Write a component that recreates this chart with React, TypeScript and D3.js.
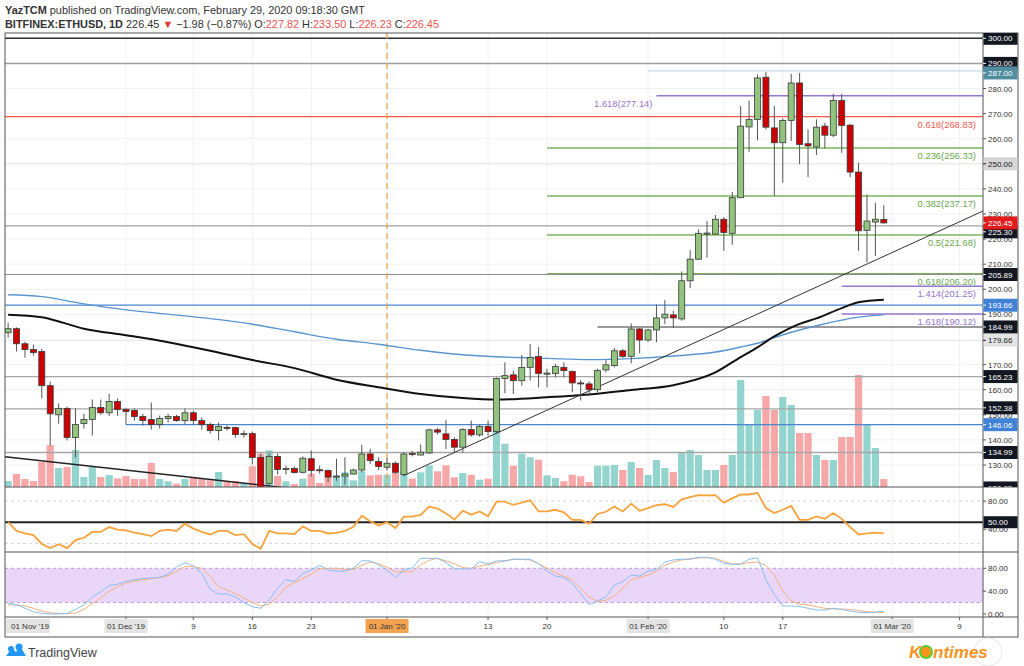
import React from "react";
import * as d3 from "d3";

const DAY = 86400000;
const firstDate = Date.UTC(2019, 10, 17);

const opens = [182.7,184.3,178.3,176.0,175.2,161.6,150.0,152.5,141.0,146.5,148.1,152.9,150.8,155.3,152.1,151.7,149.3,148.1,146.1,148.5,149.3,147.7,150.8,147.7,146.1,143.7,145.0,144.9,142.1,142.5,133.0,122.7,133.4,128.4,128.6,127.1,132.5,128.1,127.8,125.4,125.6,126.4,128.0,134.4,131.4,129.1,130.7,126.2,134.6,134.0,134.8,144.0,142.4,140.2,137.1,144.1,142.0,145.4,143.3,164.5,165.9,163.6,168.9,173.2,166.5,166.5,168.9,167.3,162.7,162.3,160.0,167.9,169.6,175.5,173.3,184.2,179.8,183.8,188.6,189.8,188.2,203.4,212.0,222.3,222.0,227.9,222.3,236.5,264.7,267.7,284.5,264.3,258.4,267.3,282.2,258.0,256.7,265.0,261.4,275.2,265.4,246.7,223.5,226.8,227.82];
const highs = [186.7,184.8,179.1,178.0,176.3,163.2,154.5,153.3,152.5,150.4,156.1,156.1,158.4,156.5,152.5,152.5,150.4,154.9,149.7,150.4,150.0,152.5,151.7,148.9,146.9,146.9,145.7,145.3,143.7,143.3,134.6,134.6,134.6,129.8,129.4,133.4,135.8,129.8,128.2,132.5,133.1,128.6,138.0,136.4,133.1,132.7,131.4,135.1,135.6,138.2,144.4,144.7,148.0,141.1,144.7,147.7,146.0,147.7,164.9,170.9,167.6,173.8,178.2,177.0,168.3,170.3,170.9,167.6,163.9,163.3,168.3,171.8,176.6,176.2,186.4,184.6,184.2,193.9,195.7,191.4,207.1,215.6,223.9,227.2,229.6,228.8,238.8,273.0,275.2,285.6,286.6,273.0,268.1,285.8,286.2,263.7,267.7,266.3,277.9,277.9,265.9,250.4,237.8,234.5,233.50];
const lows = [180.7,175.2,172.8,173.6,156.5,137.8,146.5,139.8,133.0,144.5,141.8,150.0,149.6,149.6,146.1,147.7,145.7,144.1,144.5,146.9,147.3,146.1,146.1,144.1,142.5,139.8,143.7,140.9,140.9,130.2,117.5,116.3,126.2,126.2,126.6,126.6,125.4,126.6,123.2,123.7,122.2,126.2,127.1,130.4,128.0,127.8,126.6,125.6,133.4,133.8,134.4,142.1,136.4,134.8,134.9,141.3,141.3,141.7,142.7,158.6,158.3,161.6,163.6,160.9,160.9,164.9,164.9,159.0,155.7,157.6,159.0,166.9,168.9,172.6,170.5,174.5,179.1,178.9,186.2,184.6,187.5,200.5,211.7,212.6,221.7,215.3,217.7,236.5,254.8,259.3,263.7,237.2,242.5,259.1,249.8,244.7,253.5,256.1,260.6,254.4,244.7,215.3,210.7,213.3,226.23];
const closes = [184.3,178.3,176.0,174.8,161.6,150.4,152.5,141.0,146.1,148.1,152.9,150.8,155.3,152.1,151.3,149.3,147.7,146.1,148.5,149.3,147.7,150.8,147.7,146.1,143.7,145.3,144.8,142.1,142.5,133.0,121.1,133.4,128.2,128.6,127.0,132.7,127.8,128.0,125.2,125.6,126.4,128.0,134.4,131.8,129.4,130.7,127.1,134.4,134.4,135.1,144.0,143.1,140.2,137.1,144.1,142.0,145.4,143.3,164.5,165.6,163.6,168.9,172.9,166.5,166.6,169.2,167.6,162.7,162.5,160.0,167.6,169.9,175.5,173.3,184.2,179.8,183.8,188.6,190.1,188.6,203.4,212.0,222.3,222.4,227.9,222.6,236.5,265.0,267.7,284.2,264.6,258.4,267.3,282.2,257.7,257.1,264.6,261.4,275.2,265.3,246.7,223.3,227.2,227.9,226.45];
const volumes = [60,130,80,60,250,420,190,200,370,100,200,100,120,86,110,80,80,240,80,57,33,80,100,80,67,150,57,57,40,207,333,367,110,57,30,83,133,40,107,113,147,67,157,117,123,123,140,157,83,147,217,157,217,97,140,123,73,83,690,433,213,333,297,273,117,90,57,123,107,50,213,213,220,170,250,190,120,270,190,150,350,370,320,170,170,220,320,1070,620,770,910,770,900,820,540,540,320,270,270,500,500,1120,620,390,80];
const rsi = [50.1,37.7,34.1,31.7,19.3,13.4,18.9,13.4,24.8,28.0,36.3,36.3,43.2,39.6,38.6,35.4,33.1,30.3,37.7,39.6,37.7,47.9,41.0,36.3,32.7,37.7,37.7,31.7,33.1,19.3,12.4,37.7,34.1,34.1,33.1,44.1,37.7,37.7,34.1,34.9,37.7,43.2,59.3,51.4,45.5,50.1,41.8,57.9,57.9,60.3,72.1,69.4,62.5,53.8,66.2,60.7,65.2,58.3,79.0,79.0,74.5,77.7,81.0,65.2,65.2,67.6,63.9,53.4,53.4,47.9,61.7,64.8,72.1,65.2,76.3,66.2,69.9,74.1,75.4,71.7,82.3,85.5,88.3,87.9,88.3,77.7,83.7,89.2,89.2,91.4,69.9,63.0,67.6,73.1,53.4,53.4,58.3,54.8,63.0,54.8,43.2,32.7,34.1,35.4,34.1];
const stochK = [18.7,16.5,10,4,1,0,0,1,8,15.8,30,39,50,52,57,60,62,63,64,70,82,90,84,71,43,35,35,30,20,12.8,10,24,45,60,57,71,77,85,77,75,75,80,93,93,86,77,64,77,81,97.5,97.5,97.5,90,79,79,79,91.6,87.6,92.8,93,95.8,95.8,95.8,88,75,66.5,64,53.7,36,16,22.8,30,51,56.6,68,66.5,75,78,91,94.6,95.8,96.3,99.3,99.3,95.8,88.8,87,87,95.8,98.6,60,34,14,14,13,10,7,7,10,8,5,3,2,3,5];
const stochD = [15.8,15.8,14,10,5,2,1,0.5,1.5,8,18,28,40,48,54,58,60,62,64,67,75,83,83,80,66,48,42,36,28,20,14,17,30,47,55,62,70,79,80,80,78,78,85,91,88,82,74,74,74,86,94,97.5,93,88,81,80,84,86,90,92.8,95.8,95.8,94.6,88,80,72,66,60,45,30,22,24,31.5,45,59.5,64,68.3,75,85,91,94.6,96,98,98.6,97.5,92,87.6,88,89.8,91,85,68,40,22.8,17,15.8,13,10,9,8.5,8,6,4,3,3];

// moving averages sampled at candle numbers (1-based)
const maCandle = [1,5,10,15,20,25,30,35,40,45,50,55,59,65,70,75,80,85,88,90,92,95,97,100,102,105];
const ma100 = [189.9,188.9,184.3,181.7,178.9,175.5,171.8,168.6,164.0,161.0,158.3,156.7,156.1,157.0,158.1,159.9,161.8,166.9,173.0,176.9,181.2,186.2,188.4,192.5,194.8,195.8];
const ma200 = [197.8,197.1,194.2,191.8,190.1,188.3,186.1,183.1,180.1,178.1,175.7,173.9,173.1,172.5,172.0,172.4,173.4,175.0,177.0,178.5,180.8,183.8,185.5,187.7,188.9,189.8];

const priceTicks = [130,140,150,160,170,190,200,210,220,230,240,260,270,280];

type Level = { price: number; from?: string; color: string; w: number };
const levels: Level[] = [
  { price: 300, color: "#2a2e39", w: 1.5 },
  { price: 290, color: "#9e9e9e", w: 1.5 },
  { price: 287, from: "2020-02-01", color: "#b7d4e2", w: 1 },
  { price: 277.14, from: "2020-02-02", color: "#9575cd", w: 1.5 },
  { price: 268.83, color: "#f0584e", w: 1.3 },
  { price: 256.33, from: "2020-01-20", color: "#7cb45c", w: 1.5 },
  { price: 250, color: "#e3e3e3", w: 1 },
  { price: 237.17, from: "2020-01-20", color: "#7cb45c", w: 1.5 },
  { price: 225.3, color: "#a0a0a0", w: 1.3 },
  { price: 221.68, from: "2020-01-20", color: "#7cb45c", w: 1.5 },
  { price: 206.2, from: "2020-01-20", color: "#7cb45c", w: 1.5 },
  { price: 205.89, color: "#8c8c8c", w: 1.2 },
  { price: 201.25, from: "2020-02-24", color: "#9575cd", w: 1.5 },
  { price: 193.66, color: "#4a86d0", w: 1.3 },
  { price: 190.12, from: "2020-02-24", color: "#9575cd", w: 1.5 },
  { price: 184.99, from: "2020-01-26", color: "#777777", w: 1.3 },
  { price: 179.66, color: "#e3e3e3", w: 1 },
  { price: 165.23, color: "#a6a6a6", w: 1.3 },
  { price: 152.38, color: "#a6a6a6", w: 1.3 },
  { price: 146.06, from: "2019-12-01", color: "#4a86d0", w: 1.3 },
  { price: 134.99, color: "#a6a6a6", w: 1.3 },
];

type FibLabel = { text: string; price: number; color: string; left?: string };
const fibLabels: FibLabel[] = [
  { text: "1.618(277.14)", price: 277.14, color: "#9575cd", left: "2020-02-02" },
  { text: "0.618(268.83)", price: 268.83, color: "#f0584e" },
  { text: "0.236(256.33)", price: 256.33, color: "#6aa84f" },
  { text: "0.382(237.17)", price: 237.17, color: "#6aa84f" },
  { text: "0.5(221.68)", price: 221.68, color: "#6aa84f" },
  { text: "0.618(206.20)", price: 206.2, color: "#6aa84f" },
  { text: "1.414(201.25)", price: 201.25, color: "#9575cd" },
  { text: "1.618(190.12)", price: 190.12, color: "#9575cd" },
];

type Box = { price: number; fill: string; text: string; shift?: number };
const boxes: Box[] = [
  { price: 300, fill: "#131722", text: "#ffffff" },
  { price: 290, fill: "#131722", text: "#ffffff" },
  { price: 287, fill: "#4f8d9f", text: "#ffffff", shift: 2 },
  { price: 250, fill: "#d6d6d6", text: "#131722" },
  { price: 225.3, fill: "#131722", text: "#ffffff", shift: 6 },
  { price: 226.45, fill: "#e21b1b", text: "#ffffff" },
  { price: 205.89, fill: "#131722", text: "#ffffff" },
  { price: 193.66, fill: "#3f82d6", text: "#ffffff" },
  { price: 184.99, fill: "#131722", text: "#ffffff" },
  { price: 179.66, fill: "#e4e4e4", text: "#131722" },
  { price: 165.23, fill: "#131722", text: "#ffffff" },
  { price: 152.38, fill: "#131722", text: "#ffffff", shift: -1 },
  { price: 146.06, fill: "#3f82d6", text: "#ffffff" },
  { price: 134.99, fill: "#131722", text: "#ffffff" },
  { price: 120.85, fill: "#131722", text: "#ffffff" },
];

const trendDown = [
  { date: "2019-11-16T14:00:00Z", price: 133.3 },
  { date: "2019-12-23T00:00:00Z", price: 119.8 },
];
const trendUp = [
  { date: "2020-01-03T00:00:00Z", price: 125.8 },
  { date: "2020-03-11T19:00:00Z", price: 231.2 },
];

type Tick = { date: string; label: string; box?: string };
const xTicks: Tick[] = [
  { date: "2019-12-01", label: "01 Dec '19", box: "#e4e4e4" },
  { date: "2019-12-09", label: "9" },
  { date: "2019-12-16", label: "16" },
  { date: "2019-12-23", label: "23" },
  { date: "2020-01-01", label: "01 Jan '20", box: "#f3a350" },
  { date: "2020-01-13", label: "13" },
  { date: "2020-01-20", label: "20" },
  { date: "2020-02-01", label: "01 Feb '20", box: "#e4e4e4" },
  { date: "2020-02-10", label: "10" },
  { date: "2020-02-17", label: "17" },
  { date: "2020-03-01", label: "01 Mar '20", box: "#e4e4e4" },
  { date: "2020-03-09", label: "9" },
];

const FONT = "Liberation Sans, Arial, sans-serif";

export default function App() {
  const jan1 = Date.UTC(2020, 0, 1);
  const x = d3
    .scaleUtc()
    .domain([new Date(jan1 - 45.37 * DAY), new Date(jan1 + 70.78 * DAY)])
    .range([5, 983]);
  const y = d3.scaleLinear().domain([130, 300]).range([465, 38.3]);
  const yVol = d3.scaleLinear().domain([0, 1200]).range([487, 367]);
  const yRsi = d3.scaleLinear().domain([40, 80]).range([529.3, 501]);
  const ySto = d3.scaleLinear().domain([0, 80]).range([614, 568.3]);

  const dates = opens.map((_, i) => new Date(firstDate + i * DAY));
  const xd = (s: string) => x(new Date(s));

  const lineGen = d3
    .line<[Date, number]>()
    .x((d) => x(d[0]))
    .curve(d3.curveMonotoneX);

  const maPath = (vals: number[]) =>
    lineGen.y((d) => y(d[1]))(
      maCandle.map((c, i) => [dates[c - 1], vals[i]] as [Date, number])
    ) || "";

  const rsiPath =
    d3
      .line<number>()
      .x((_, i) => x(dates[i]))
      .y((v) => yRsi(v))(rsi) || "";
  const kPath =
    d3
      .line<number>()
      .x((_, i) => x(dates[i]))
      .y((v) => ySto(v))(stochK) || "";
  const dPath =
    d3
      .line<number>()
      .x((_, i) => x(dates[i]))
      .y((v) => ySto(v))(stochD) || "";

  const tl = (pts: { date: string; price: number }[]) =>
    d3
      .line<{ date: string; price: number }>()
      .x((d) => xd(d.date))
      .y((d) => y(d.price))(pts) || "";

  const green = "#93c47d";
  const red = "#cc0000";
  const volUp = "#93d4ce";
  const volDn = "#f6a7a7";

  return (
    <div style={{ position: "absolute", left: 0, top: 0 }}>
      <svg width={1024} height={666} style={{ display: "block", background: "#fff" }} fontFamily={FONT}>
        <defs>
          <clipPath id="main">
            <rect x={5} y={33} width={978} height={454} />
          </clipPath>
          <clipPath id="axis">
            <rect x={983} y={33} width={36} height={454} />
          </clipPath>
        </defs>

        {/* header */}
        <text x={5} y={14} fontSize={10.9} fill="#333">
          <tspan fontWeight="bold">YazTCM</tspan>
          <tspan> published on TradingView.com, February 29, 2020 09:18:30 GMT</tspan>
        </text>
        <text x={5} y={28} fontSize={10.9} fill="#333">
          <tspan fontWeight="bold">BITFINEX:ETHUSD, 1D</tspan>
          <tspan> 226.45 </tspan>
          <tspan fill="#e53935">▼</tspan>
          <tspan> −1.98 (−0.87%) O:</tspan>
          <tspan fill="#ef5350">227.82</tspan>
          <tspan> H:</tspan>
          <tspan fill="#ef5350">233.50</tspan>
          <tspan> L:</tspan>
          <tspan fill="#ef5350">226.23</tspan>
          <tspan> C:</tspan>
          <tspan fill="#ef5350">226.45</tspan>
        </text>

        {/* grid */}
        <g stroke="#f1f1f1" strokeWidth={1}>
          {xTicks.map((t) => (
            <line key={t.date} x1={xd(t.date)} x2={xd(t.date)} y1={33} y2={617} />
          ))}
          {priceTicks.map((p) => (
            <line key={p} x1={5} x2={983} y1={y(p)} y2={y(p)} />
          ))}
        </g>

        <g clipPath="url(#main)">
          {/* volume */}
          {volumes.map((v, i) => (
            <rect
              key={i}
              x={x(dates[i]) - 3.6}
              width={7.2}
              y={yVol(v)}
              height={487 - yVol(v)}
              fill={closes[i] >= opens[i] ? volUp : volDn}
            />
          ))}
          {/* levels */}
          {levels.map((l) => (
            <line
              key={l.price}
              x1={l.from ? xd(l.from) : 5}
              x2={983}
              y1={y(l.price)}
              y2={y(l.price)}
              stroke={l.color}
              strokeWidth={l.w}
            />
          ))}
          {/* Jan 1 marker */}
          <line
            x1={xd("2020-01-01")}
            x2={xd("2020-01-01")}
            y1={33}
            y2={487}
            stroke="#f0a04a"
            strokeWidth={1.3}
            strokeDasharray="6,4"
          />
          {/* MAs */}
          <path d={maPath(ma200)} fill="none" stroke="#5a95cf" strokeWidth={1.4} />
          <path d={maPath(ma100)} fill="none" stroke="#111" strokeWidth={2} />
          {/* trend lines */}
          <path d={tl(trendDown)} fill="none" stroke="#222" strokeWidth={1.3} />
          <path d={tl(trendUp)} fill="none" stroke="#333" strokeWidth={1} />
          {/* candles */}
          {dates.map((d, i) => {
            const cx = x(d);
            const up = closes[i] >= opens[i];
            const top = y(Math.max(opens[i], closes[i]));
            const bot = y(Math.min(opens[i], closes[i]));
            return (
              <g key={i}>
                <line x1={cx} x2={cx} y1={y(highs[i])} y2={y(lows[i])} stroke="#555" strokeWidth={1} />
                <rect
                  x={cx - 3}
                  width={6}
                  y={top}
                  height={Math.max(1, bot - top)}
                  fill={up ? green : red}
                  stroke="#3a3a3a"
                  strokeWidth={0.8}
                />
              </g>
            );
          })}
          {/* fib labels */}
          {fibLabels.map((f) => (
            <text
              key={f.text}
              x={f.left ? xd(f.left) - 4 : 976}
              y={y(f.price) + 11}
              textAnchor="end"
              fontSize={9.4}
              fill={f.color}
            >
              {f.text}
            </text>
          ))}
        </g>

        {/* RSI pane */}
        <line x1={5} x2={983} y1={yRsi(80)} y2={yRsi(80)} stroke="#d6d6d6" strokeDasharray="3,3" />
        <line x1={5} x2={983} y1={yRsi(20)} y2={yRsi(20)} stroke="#d6d6d6" strokeDasharray="3,3" />
        <line x1={5} x2={983} y1={yRsi(50)} y2={yRsi(50)} stroke="#222" strokeWidth={2} />
        <path d={rsiPath} fill="none" stroke="#f7a23a" strokeWidth={1.8} />

        {/* Stoch pane */}
        <rect x={5} y={ySto(80)} width={978} height={ySto(20) - ySto(80)} fill="#ead6f9" />
        <line x1={5} x2={983} y1={ySto(80)} y2={ySto(80)} stroke="#b69bd0" strokeDasharray="3,3" />
        <line x1={5} x2={983} y1={ySto(20)} y2={ySto(20)} stroke="#b69bd0" strokeDasharray="3,3" />
        <path d={dPath} fill="none" stroke="#f6b07e" strokeWidth={1} />
        <path d={kPath} fill="none" stroke="#84bff3" strokeWidth={1} />

        {/* frame & separators */}
        <g stroke="#555" strokeWidth={1} fill="none">
          <rect x={5} y={33} width={1013} height={604} />
          <line x1={983} x2={983} y1={33} y2={637} />
          <line x1={5} x2={1018} y1={487} y2={487} />
          <line x1={5} x2={1018} y1={552} y2={552} />
          <line x1={5} x2={1018} y1={617} y2={617} />
        </g>

        {/* price axis */}
        <g fontSize={8} fill="#333">
          {priceTicks.map((p) => (
            <g key={p}>
              <line x1={983} x2={986} y1={y(p)} y2={y(p)} stroke="#555" />
              <text x={988} y={y(p) + 3}>{p.toFixed(2)}</text>
            </g>
          ))}
        </g>
        <g clipPath="url(#axis)" fontSize={8}>
          {boxes.map((b) => {
            const cy = y(b.price) + (b.shift || 0);
            return (
              <g key={b.price}>
                <rect x={983.5} y={cy - 6.5} width={34} height={13} fill={b.fill} />
                <line x1={983} x2={986} y1={cy} y2={cy} stroke={b.text} />
                <text x={988} y={cy + 3} fill={b.text}>{b.price.toFixed(2)}</text>
              </g>
            );
          })}
        </g>
        <g fontSize={8} fill="#333">
          {[80, 40].map((v) => (
            <g key={"r" + v}>
              <line x1={983} x2={986} y1={yRsi(v)} y2={yRsi(v)} stroke="#555" />
              <text x={988} y={yRsi(v) + 3}>{v.toFixed(2)}</text>
            </g>
          ))}
          <rect x={983.5} y={yRsi(50) - 6} width={34} height={12} fill="#131722" />
          <text x={988} y={yRsi(50) + 3} fill="#fff">50.00</text>
          {[80, 40, 0].map((v) => (
            <g key={"s" + v}>
              <line x1={983} x2={986} y1={ySto(v)} y2={ySto(v)} stroke="#555" />
              <text x={988} y={ySto(v) + 3}>{v.toFixed(2)}</text>
            </g>
          ))}
        </g>

        {/* time axis */}
        <g fontSize={8} fill="#333">
          <rect x={6} y={619} width={44} height={14} fill="#e4e4e4" />
          <text x={11} y={629}>01 Nov '19</text>
          {xTicks.map((t) => {
            const tx = xd(t.date);
            const w = t.box ? 43 : 0;
            return (
              <g key={t.date}>
                <line x1={tx} x2={tx} y1={617} y2={620} stroke="#555" />
                {t.box && <rect x={tx - w / 2} y={619} width={w} height={14} fill={t.box} />}
                <text x={tx} y={629} textAnchor="middle">{t.label}</text>
              </g>
            );
          })}
        </g>

        {/* footer logos */}
        <g>
          <path d="M6,656 L12,648 L16,652 L20,646 L26,656 Z" fill="#2196f3" />
          <circle cx={11} cy={649} r={3} fill="#2196f3" />
          <circle cx={19} cy={647} r={3.5} fill="#2196f3" />
          <text x={28} y={657} fontSize={12.5} fill="#444">TradingView</text>
        </g>
        <g>
          <circle cx={988} cy={652} r={14} fill="none" stroke="#e6e6e6" />
          <text x={909} y={658} fontSize={17} fontWeight="bold" fontStyle="italic" fill="#f7931e">K</text>
          <circle cx={926} cy={652} r={6} fill="#f7931e" stroke="#5ecb2e" strokeWidth={2} />
          <text x={933} y={658} fontSize={17} fontWeight="bold" fontStyle="italic" fill="#f7931e">ntimes</text>
        </g>
      </svg>
    </div>
  );
}
